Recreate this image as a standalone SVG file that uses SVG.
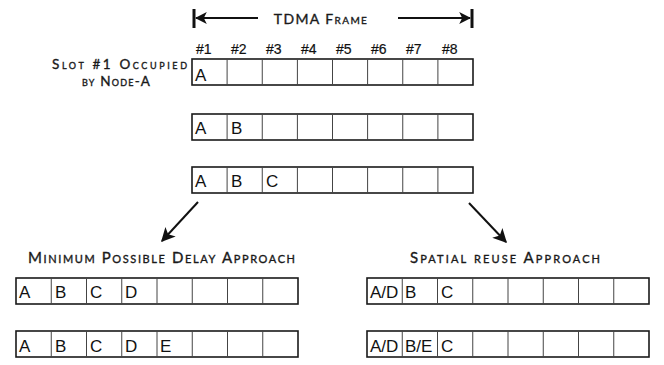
<svg xmlns="http://www.w3.org/2000/svg" width="664" height="365" viewBox="0 0 664 365">
<style>
.frame{fill:#fff;stroke:#1a1a1a;stroke-width:1.6}
.div{fill:none;stroke:#444;stroke-width:1}
.cell{font-family:"Liberation Sans",Arial,sans-serif;font-size:17px;fill:#111}
.hdr{font-family:"Liberation Sans",Arial,sans-serif;font-size:14px;fill:#111;stroke:#111;stroke-width:0.2}
.sc{font-family:"Lato","Open Sans",sans-serif;font-variant:small-caps;fill:#1a1a1a;stroke:#1a1a1a;stroke-width:0.35}
.conn{stroke:#111;stroke-width:2;fill:none}
.bar{stroke:#111;stroke-width:3}
</style>
<defs>
<marker id="ah" viewBox="0 0 10 10" refX="9" refY="5" markerWidth="6" markerHeight="6" orient="auto" markerUnits="strokeWidth">
<path d="M0,0 L10,5 L0,10 L2.5,5 Z" fill="#111"/>
</marker>
<marker id="ah2" viewBox="0 0 10 10" refX="9" refY="5" markerWidth="7" markerHeight="7" orient="auto" markerUnits="strokeWidth">
<path d="M0,0 L10,5 L0,10 L2.5,5 Z" fill="#111"/>
</marker>
</defs>
<rect width="664" height="365" fill="#fff"/>

<g id="tdma-frame-label">
<line class="bar" x1="194" y1="9" x2="194" y2="28"/>
<line class="bar" x1="472" y1="9" x2="472" y2="28"/>
<text class="sc" x="321" y="24" font-size="14" text-anchor="middle" letter-spacing="1.4">TDMA Frame</text>
</g>

<g id="slot-headers">
<text class="hdr" x="196" y="54">#1</text>
<text class="hdr" x="231" y="54">#2</text>
<text class="hdr" x="266" y="54">#3</text>
<text class="hdr" x="301" y="54">#4</text>
<text class="hdr" x="336" y="54">#5</text>
<text class="hdr" x="371" y="54">#6</text>
<text class="hdr" x="406" y="54">#7</text>
<text class="hdr" x="442" y="54">#8</text>
</g>

<g id="slot-note">
<text class="sc" x="52" y="69" font-size="13.5" textLength="135" lengthAdjust="spacing">Slot #1 Occupied</text>
<text class="sc" x="82" y="86" font-size="13.5" textLength="68" lengthAdjust="spacing">by Node-A</text>
</g>

<g id="frame-1">
<rect class="frame" x="192" y="59" width="281" height="26"/>
<path class="div" d="M227.1,59v26M262.25,59v26M297.4,59v26M332.5,59v26M367.6,59v26M402.75,59v26M437.9,59v26"/>
<text class="cell" x="195" y="81">A</text>
</g>

<g id="frame-2">
<rect class="frame" x="192" y="114" width="281" height="26"/>
<path class="div" d="M227.1,114v26M262.25,114v26M297.4,114v26M332.5,114v26M367.6,114v26M402.75,114v26M437.9,114v26"/>
<text class="cell" x="195" y="134">A</text>
<text class="cell" x="231" y="134">B</text>
</g>

<g id="frame-3">
<rect class="frame" x="192" y="167" width="281" height="26"/>
<path class="div" d="M227.1,167v26M262.25,167v26M297.4,167v26M332.5,167v26M367.6,167v26M402.75,167v26M437.9,167v26"/>
<text class="cell" x="195" y="187">A</text>
<text class="cell" x="231" y="187">B</text>
<text class="cell" x="266" y="187">C</text>
</g>

<g id="label-min-delay">
<text class="sc" x="28" y="263" font-size="15" textLength="267" lengthAdjust="spacing">Minimum Possible Delay Approach</text>
</g>

<g id="label-spatial">
<text class="sc" x="410" y="263" font-size="15" textLength="190" lengthAdjust="spacing">Spatial reuse Approach</text>
</g>

<g id="min-delay-1">
<rect class="frame" x="16" y="278" width="282" height="26"/>
<path class="div" d="M51.25,278v26M86.5,278v26M121.75,278v26M157,278v26M192.25,278v26M227.5,278v26M262.75,278v26"/>
<text class="cell" x="19" y="298">A</text>
<text class="cell" x="55" y="298">B</text>
<text class="cell" x="90" y="298">C</text>
<text class="cell" x="125" y="298">D</text>
</g>

<g id="min-delay-2">
<rect class="frame" x="16" y="331" width="282" height="26"/>
<path class="div" d="M51.25,331v26M86.5,331v26M121.75,331v26M157,331v26M192.25,331v26M227.5,331v26M262.75,331v26"/>
<text class="cell" x="19" y="352">A</text>
<text class="cell" x="55" y="352">B</text>
<text class="cell" x="90" y="352">C</text>
<text class="cell" x="125" y="352">D</text>
<text class="cell" x="160" y="352">E</text>
</g>

<g id="spatial-1">
<rect class="frame" x="367" y="278" width="282" height="26"/>
<path class="div" d="M402.25,278v26M437.5,278v26M472.75,278v26M508,278v26M543.25,278v26M578.5,278v26M613.75,278v26"/>
<text class="cell" x="370" y="298">A/D</text>
<text class="cell" x="405" y="298">B</text>
<text class="cell" x="441" y="298">C</text>
</g>

<g id="spatial-2">
<rect class="frame" x="367" y="331" width="282" height="26"/>
<path class="div" d="M402.25,331v26M437.5,331v26M472.75,331v26M508,331v26M543.25,331v26M578.5,331v26M613.75,331v26"/>
<text class="cell" x="370" y="352">A/D</text>
<text class="cell" x="405" y="352">B/E</text>
<text class="cell" x="441" y="352">C</text>
</g>

<g id="connectors">
<line class="conn" x1="258" y1="18" x2="196" y2="18" marker-end="url(#ah)"/>
<line class="conn" x1="398" y1="18" x2="470" y2="18" marker-end="url(#ah)"/>
<line class="conn" x1="198" y1="202" x2="162" y2="241" marker-end="url(#ah2)"/>
<line class="conn" x1="469" y1="203" x2="506" y2="242" marker-end="url(#ah2)"/>
</g>
</svg>
